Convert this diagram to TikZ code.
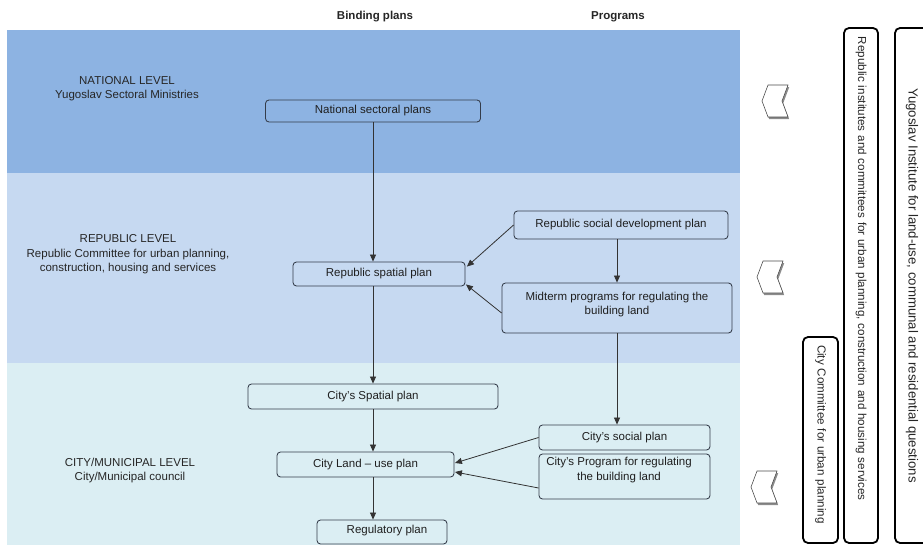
\documentclass[tikz,border=0pt]{standalone}
\usepackage{fontspec}
\setmainfont{Liberation Sans}
\usetikzlibrary{arrows.meta,calc}
\definecolor{bandA}{HTML}{8DB3E2}
\definecolor{bandB}{HTML}{C6D9F1}
\definecolor{bandC}{HTML}{DBEEF3}
\definecolor{edgec}{HTML}{343C4A}
\newcommand\myfs{\fontsize{11.5}{14.5}\selectfont}
\newcommand\mysfs{\fontsize{11.6}{13}\selectfont}
\newcommand\mybfs{\fontsize{13.2}{15}\selectfont}
\newcommand\chevpath[2]{({#1+6},{#2-16}) -- ({#1+26},{#2-16}) -- ({#1+20},{#2}) -- ({#1+26},{#2+16}) -- ({#1+6},{#2+16}) -- ({#1},{#2}) -- cycle}
\tikzset{
  plan/.style={draw=edgec, line width=0.85pt, rounded corners=3.5pt, inner sep=0pt, font=\myfs, text=black!88, align=center},
  ptext/.style={font=\myfs, text=black!88, align=center, inner sep=0pt},
  arr/.style={draw=black!80, line width=0.8pt, -{Triangle[length=7pt,width=6pt]}},
  side/.style={draw=black, line width=1.8pt, rounded corners=5pt, fill=white, rotate=-90, font=\mysfs, text=black!85, inner sep=0pt},
  lvl/.style={font=\myfs, align=center, text=black!85, inner sep=0pt},
  hdr/.style={font=\myfs\bfseries, text=black!85, inner sep=0pt},
  chev/.style={draw=black!70, fill=white, line width=0.6pt, line join=miter},
  chevshadow/.style={fill=black!45}
}
\begin{document}
\begin{tikzpicture}[x=1pt,y=-1pt]
\useasboundingbox (0,0) rectangle (923,545);
\begin{scope}
\clip (0,0) rectangle (923,545);
% bands
\fill[bandA] (7,30) rectangle (740,173);
\fill[bandB] (7,173) rectangle (740,363);
\fill[bandC] (7,363) rectangle (740,545);
% headers
\node[hdr] (hbind) at (375,17) {Binding plans};
\node[hdr] (hprog) at (618,17) {Programs};
% level labels
\node[lvl] (lnat) at (127,88.5) {NATIONAL LEVEL\\Yugoslav Sectoral Ministries};
\node[lvl] (lrep) at (128,254.5) {REPUBLIC LEVEL\\Republic Committee for urban planning,\\construction, housing and services};
\node[lvl] (lcity) at (130,470.5) {CITY/MUNICIPAL LEVEL\\City/Municipal council};
% plan boxes
\node[plan, minimum width=215, minimum height=22] (nat) at (373,111) {National sectoral plans};
\node[plan, minimum width=172, minimum height=24] (rsp) at (379,274) {Republic spatial plan};
\node[plan, minimum width=214, minimum height=28] (rsd) at (621,225) {Republic social development plan};
\node[plan, minimum width=230, minimum height=50] (mid) at (617,308) {};
\node[ptext] (midt) at (617,304.5) {Midterm programs for regulating the\\building land};
\node[plan, minimum width=250, minimum height=25] (csp) at (373,396.5) {City's Spatial plan};
\node[plan, minimum width=171, minimum height=25] (csoc) at (624.5,437.5) {City's social plan};
\node[plan, minimum width=171, minimum height=45] (cprog) at (624.5,476.5) {};
\node[ptext] (cprogt) at (619,470) {City's Program for regulating\\the building land};
\node[plan, minimum width=177, minimum height=25] (cland) at (365.5,464.5) {City Land -- use plan};
\node[plan, minimum width=130, minimum height=24] (reg) at (382,532) {};
\node[ptext] (regt) at (387,531) {Regulatory plan};
% arrows, binding plans
\draw[arr] (nat.south) -- (nat.south |- rsp.north);
\draw[arr] (rsp.south -| csp.north) -- (csp.north);
\draw[arr] (csp.south) -- (csp.south |- cland.north);
\draw[arr] (csp.south |- cland.south) -- (csp.south |- reg.north);
% arrows, programs
\draw[arr] (rsd.south -| mid.north) -- (mid.north);
\draw[arr] (mid.south) -- (mid.south |- csoc.north);
\draw[arr] (rsd.west) -- ([xshift=1.5pt,yshift=-5pt]rsp.north east);
\draw[arr] ([yshift=-5pt]mid.west) -- ([xshift=0.5pt,yshift=2pt]rsp.south east);
\draw[arr] (csoc.west) -- ([xshift=0.5pt,yshift=1.5pt]cland.east);
\draw[arr] ([yshift=-11.5pt]cprog.west) -- ([xshift=0.5pt,yshift=-7.5pt]cland.east);
% chevrons
\fill[chevshadow] [shift={(1.2,2.2)}] \chevpath{762}{101};
\draw[chev] \chevpath{762}{101};
\fill[chevshadow] [shift={(1.2,2.2)}] \chevpath{757}{277};
\draw[chev] \chevpath{757}{277};
\fill[chevshadow] [shift={(1.2,2.2)}] \chevpath{751}{487};
\draw[chev] \chevpath{751}{487};
% side boxes
\node[side, minimum width=206, minimum height=35, text width=190, align=left] (cityc) at (820.5,440) {City Committee for urban planning};
\node[side, minimum width=515, minimum height=34, text width=497, align=left] (repc) at (861,285.5) {Republic institutes and committees for urban planning, construction and housing services};
\node[side, minimum width=515, minimum height=34, font=\mybfs] (yugc) at (912,285.5) {Yugoslav Institute for land-use, communal and residential questions};
\end{scope}
\end{tikzpicture}
\end{document}
